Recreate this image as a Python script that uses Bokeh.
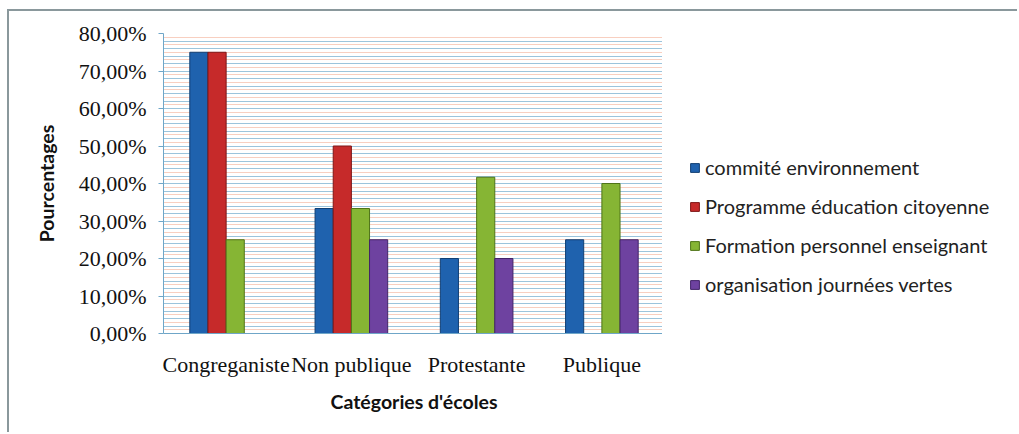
import math
from bokeh.plotting import figure
from bokeh.layouts import row
from bokeh.models import (ColumnDataSource, FactorRange, FixedTicker, Grid, Legend,
                          LegendItem, Range1d)
from bokeh.transform import dodge
from bokeh.embed import file_html
from bokeh.resources import INLINE

categories = ["Congreganiste", "Non publique", "Protestante", "Publique"]
series_names = ["commité environnement", "Programme éducation citoyenne",
                "Formation personnel enseignant", "organisation journées vertes"]
commite = [75.0, 33.33, 20.0, 25.0]
programme = [75.0, 50.0, 0.0, 0.0]
formation = [25.0, 33.33, 41.67, 40.0]
organisation = [0.0, 25.0, 20.0, 25.0]
y_ticks = [0, 10, 20, 30, 40, 50, 60, 70, 80]
y_tick_labels = ["0,00%", "10,00%", "20,00%", "30,00%", "40,00%",
                 "50,00%", "60,00%", "70,00%", "80,00%"]

series_values = [commite, programme, formation, organisation]
colors = ["#1f62ae", "#c62a2a", "#86b534", "#6e42a0"]
edges = ["#123f73", "#7e1616", "#4f7418", "#432468"]

H = 423
W1 = 655
p = figure(width=W1, height=H, x_range=FactorRange(*categories, range_padding=0),
           y_range=Range1d(0, 80), output_backend="svg", toolbar_location=None,
           min_border_left=154, min_border_top=22, min_border_bottom=H - 322,
           min_border_right=0)
p.styles = {"margin-left": "7px", "margin-top": "9px",
            "border-top": "2px solid #8a989c", "border-left": "2px solid #8a989c"}
p.outline_line_color = None
p.xgrid.grid_line_color = None
p.ygrid.grid_line_color = None

# grid lines
p.add_layout(Grid(dimension=1, ticker=FixedTicker(ticks=list(range(1, 80, 2))),
                  grid_line_color="#f8cfc0", grid_line_width=1))
p.add_layout(Grid(dimension=1, ticker=FixedTicker(ticks=list(range(0, 81, 2))),
                  grid_line_color="#9cc4dc", grid_line_width=1))

bw = 0.145
offsets = [-1.5 * bw, -0.5 * bw, 0.5 * bw, 1.5 * bw]

# legend figure
W2 = 1019 - 7 - 2 - W1
p2 = figure(width=W2, height=H, x_range=Range1d(0, 1), y_range=Range1d(0, 1),
            output_backend="svg", toolbar_location=None,
            min_border_left=0, min_border_right=0, min_border_top=0, min_border_bottom=0)
p2.styles = {"margin-top": "9px", "border-top": "2px solid #8a989c"}
p2.axis.visible = False
p2.grid.grid_line_color = None
p2.outline_line_color = None

items = []
for name, vals, c, e, off in zip(series_names, series_values, colors, edges, offsets):
    src = ColumnDataSource(dict(cat=categories,
                                top=[v if v > 0 else math.nan for v in vals]))
    p.vbar(x=dodge("cat", off, range=p.x_range), top="top", width=bw, source=src,
           fill_color=c, line_color=e, line_width=1)
    dummy = p2.vbar(x=[0.5], top=[math.nan], width=0.1, fill_color=c, line_color=e,
                    line_width=1)
    items.append(LegendItem(label=name, renderers=[dummy]))

legend = Legend(items=items, location=(27, 37), glyph_width=11, glyph_height=11,
                label_text_font="Lato", label_text_font_size="20px",
                label_text_color="#222222", spacing=15, label_standoff=5,
                background_fill_alpha=0, border_line_color=None, padding=0, margin=0)
p2.add_layout(legend, "center")

# axes
p.yaxis.ticker = FixedTicker(ticks=y_ticks)
p.yaxis.major_label_overrides = {t: l for t, l in zip(y_ticks, y_tick_labels)}
p.yaxis.major_label_text_font = "Liberation Serif"
p.yaxis.major_label_text_font_size = "22px"
p.yaxis.major_label_text_color = "#111111"
p.yaxis.axis_line_color = "#6fa6c8"
p.yaxis.major_tick_line_color = "#6fa6c8"
p.yaxis.major_tick_out = 5
p.yaxis.major_tick_in = 0
p.yaxis.minor_tick_line_color = None
p.yaxis.major_label_standoff = 12
p.yaxis.axis_label = "Pourcentages"
p.yaxis.axis_label_text_font = "Lato"
p.yaxis.axis_label_text_font_style = "bold"
p.yaxis.axis_label_text_font_size = "19.5px"
p.yaxis.axis_label_text_color = "#111111"
p.yaxis.axis_label_standoff = 18

p.xaxis.major_label_text_font = "Liberation Serif"
p.xaxis.major_label_text_font_size = "22px"
p.xaxis.major_label_text_color = "#111111"
p.xaxis.axis_line_color = "#6fa6c8"
p.xaxis.major_tick_line_color = None
p.xaxis.minor_tick_line_color = None
p.xaxis.major_label_standoff = 12
p.xaxis.axis_label = "Catégories d'écoles"
p.xaxis.axis_label_text_font = "Lato"
p.xaxis.axis_label_text_font_style = "bold"
p.xaxis.axis_label_text_font_size = "19.5px"
p.xaxis.axis_label_text_color = "#111111"
p.xaxis.axis_label_standoff = 10

layout = row(p, p2, spacing=0)
open("out.html", "w").write(file_html(layout, INLINE))
